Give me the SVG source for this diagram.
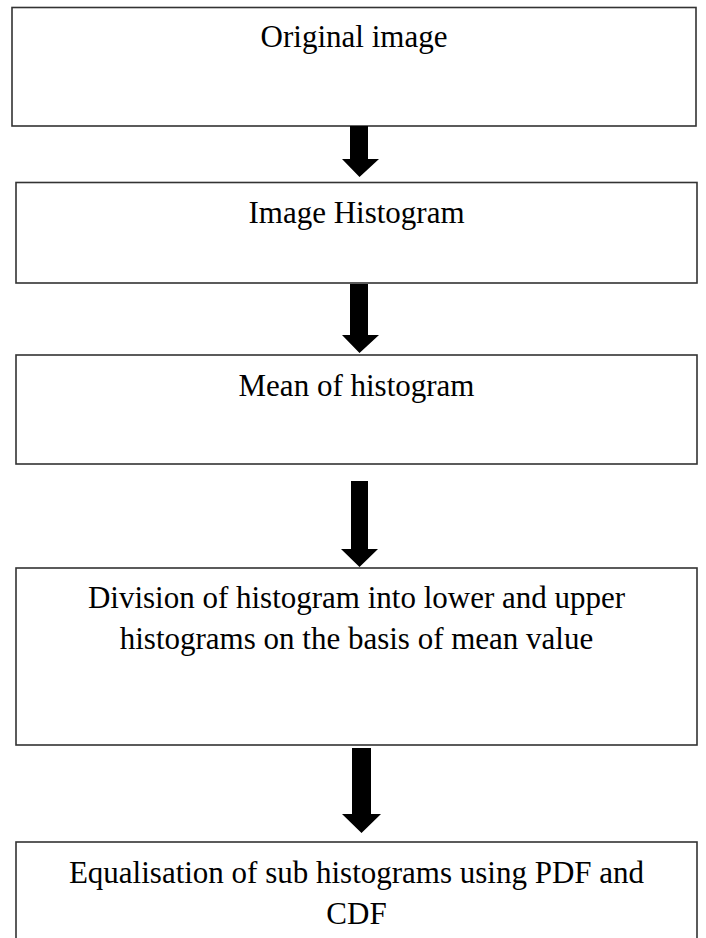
<svg xmlns="http://www.w3.org/2000/svg" width="706" height="938" viewBox="0 0 706 938">
<style>
.box{fill:#fff;stroke:#333;stroke-width:1.6}
.t{font-family:"Liberation Serif","Times New Roman",serif;font-size:31px;fill:#000;text-anchor:middle}
.arr{fill:#000}
</style>
<rect width="706" height="938" fill="#fff"/>
<g id="n1"><rect class="box" x="12" y="7.5" width="684" height="118.5"/><text class="t" x="354" y="47">Original image</text></g>
<g id="n2"><rect class="box" x="16" y="182.5" width="681" height="100.5"/><text class="t" x="356.5" y="223">Image Histogram</text></g>
<g id="n3"><rect class="box" x="16" y="355" width="681" height="109"/><text class="t" x="356.5" y="396">Mean of histogram</text></g>
<g id="n4"><rect class="box" x="16" y="568" width="681" height="177"/><text class="t" x="356.5" y="608">Division of histogram into lower and upper</text><text class="t" x="356.5" y="649">histograms on the basis of mean value</text></g>
<g id="n5"><rect class="box" x="16" y="842" width="681" height="110"/><text class="t" x="356.5" y="883">Equalisation of sub histograms using PDF and</text><text class="t" x="356.5" y="924">CDF</text></g>
<g id="connectors">
<polygon class="arr" points="350,126 368,126 368,159 379,159 359.5,177 342,159 350,159"/>
<polygon class="arr" points="350,284 368,284 368,335 379,335 359.5,353 342,335 350,335"/>
<polygon class="arr" points="351,481 368,481 368,549 378,549 359.5,567 341,549 351,549"/>
<polygon class="arr" points="352,748 371,748 371,814 381,814 361.5,833 342,814 352,814"/>
</g>
</svg>
